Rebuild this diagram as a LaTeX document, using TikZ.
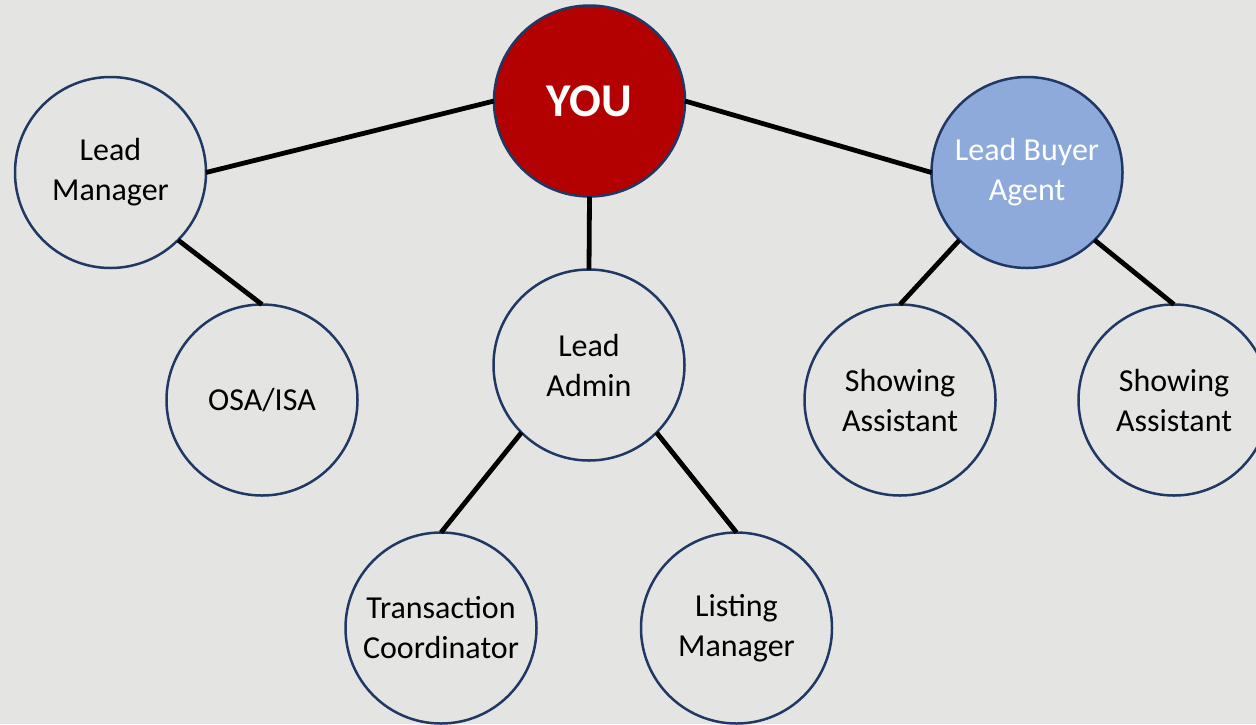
\documentclass[tikz,border=0pt]{standalone}
\usepackage{fontspec}
\setmainfont{Carlito}
\definecolor{bg}{HTML}{E4E4E2}
\definecolor{navy}{HTML}{1F3864}
\definecolor{youred}{HTML}{B30000}
\definecolor{buyerblue}{HTML}{8EAADB}
\begin{document}
\begin{tikzpicture}[x=0.5pt,y=-0.5pt,
  role/.style={circle, draw=navy, line width=1.25pt, minimum size=95.5pt,
    inner sep=0pt, outer sep=0pt, align=center,
    font=\fontsize{16pt}{20pt}\selectfont},
  link/.style={line width=2.4pt, draw=black}]
\useasboundingbox (0,0) rectangle (1256,724);
\clip (0,0) rectangle (1256,724);
\fill[bg] (0,0) rectangle (1256,724);

% team members
\node[role, fill=youred, text=white,
  font=\bfseries\fontsize{23.5pt}{28pt}\selectfont] (you) at (589.5,101) {YOU};
\node[role] (leadmgr) at (110.5,172.5) {Lead\\Manager};
\node[role] (osa) at (262,400) {OSA/ISA};
\node[role] (admin) at (589,365) {Lead\\Admin};
\node[role, fill=buyerblue, text=white] (buyer) at (1027,172.5) {Lead Buyer\\Agent};
\node[role] (show1) at (900,400) {Showing\\Assistant};
\node[role] (show2) at (1174,400) {Showing\\Assistant};
\node[role] (tc) at (441,628) {Transaction\\Coordinator};
\node[role] (listing) at (736.5,628) {Listing\\Manager};

% reporting lines
\draw[link] (you.west) -- (leadmgr.east);
\draw[link] (you.east) -- (buyer.west);
\draw[link] (you.south) -- (admin.north);
\draw[link] (leadmgr.south east) -- (osa.north);
\draw[link] (admin.south west) -- (tc.north);
\draw[link] (admin.south east) -- (listing.north);
\draw[link] (buyer.south west) -- (show1.north);
\draw[link] (buyer.south east) -- (show2.north);
\end{tikzpicture}
\end{document}
